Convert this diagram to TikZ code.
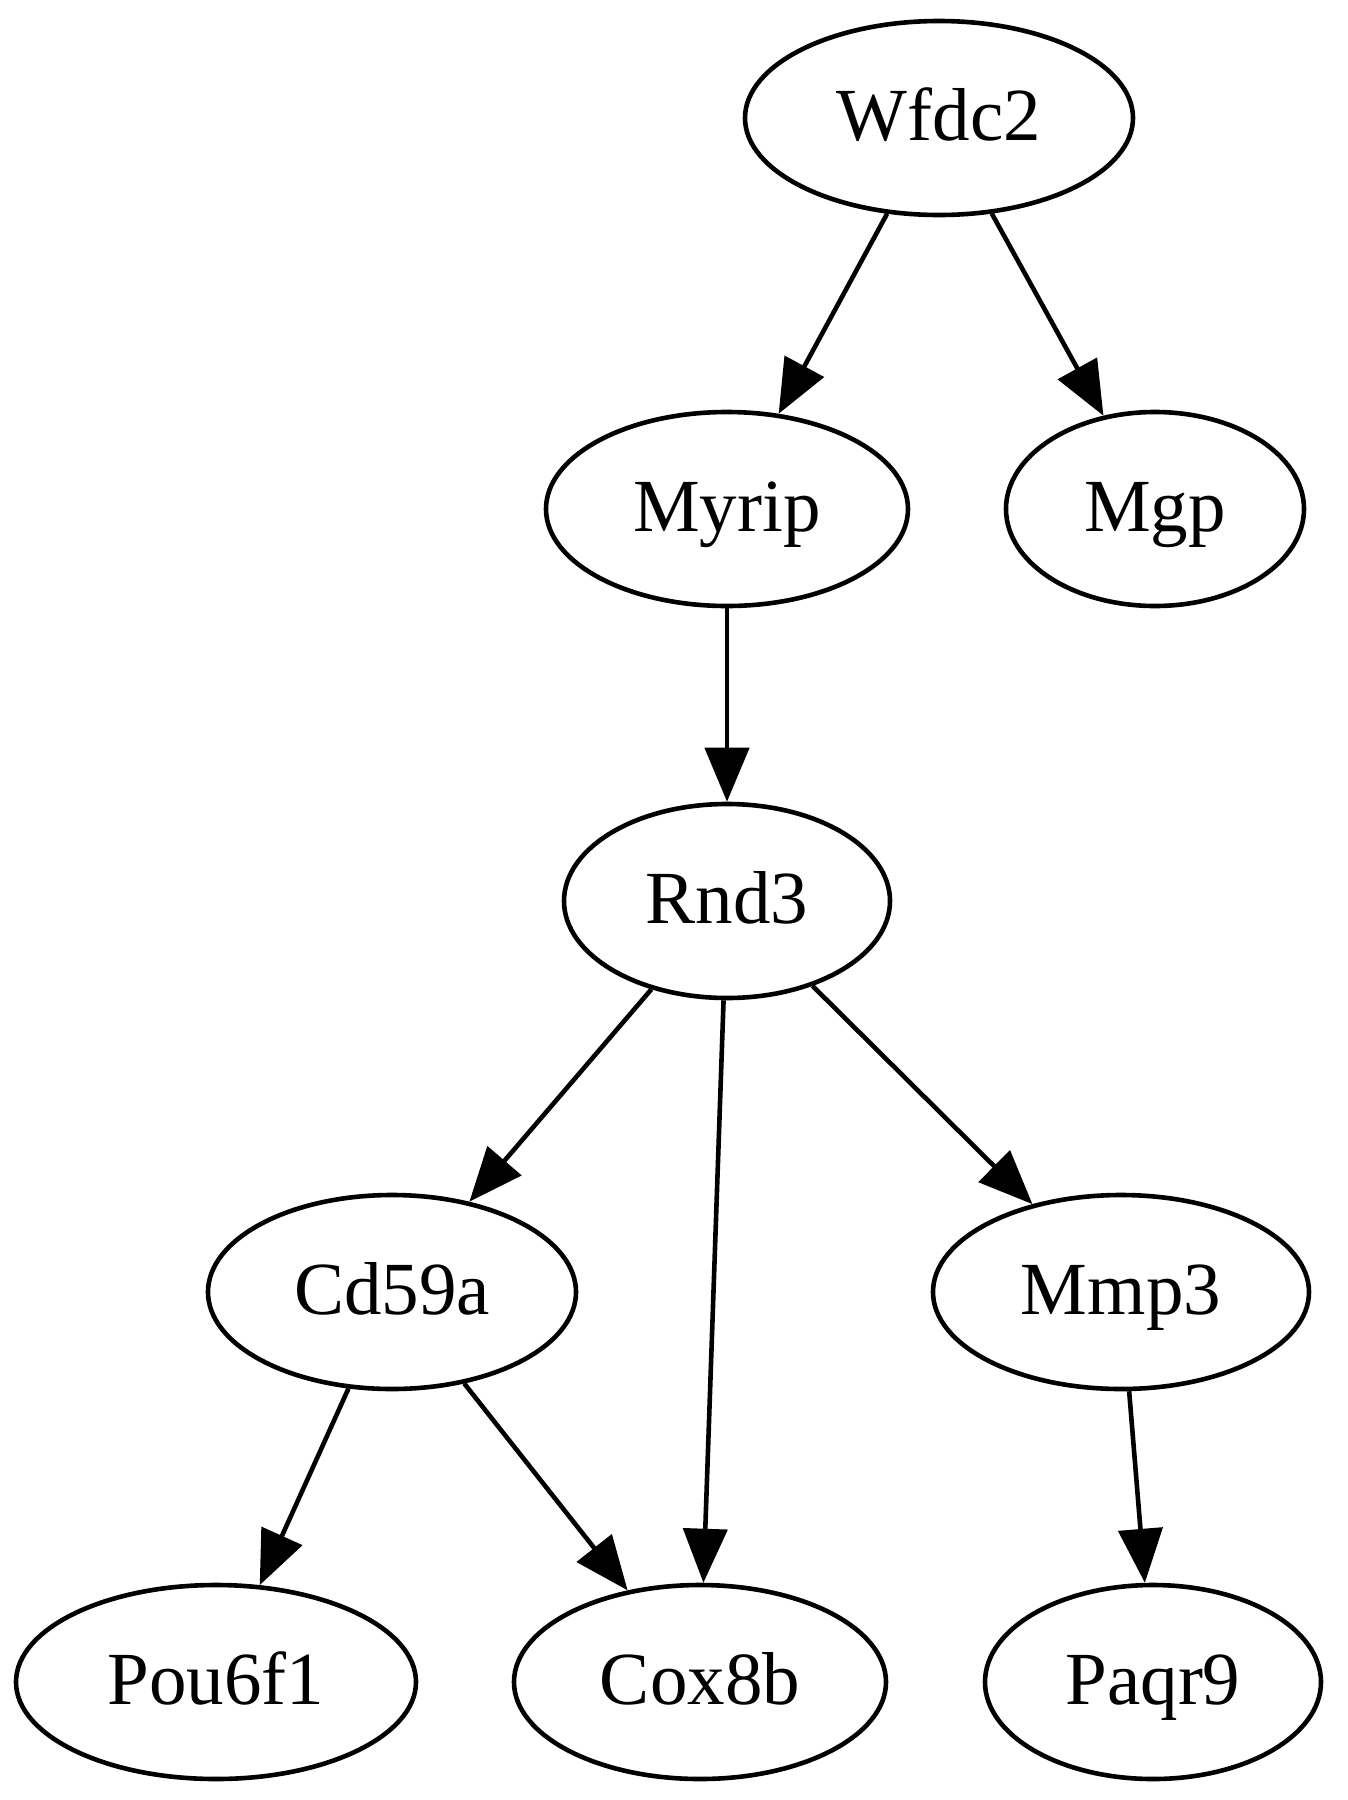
\documentclass[tikz,border=0pt]{standalone}
\usepackage{fontspec}
\setmainfont{Liberation Serif}
\usetikzlibrary{shapes.geometric,arrows.meta}
\begin{document}
\begin{tikzpicture}[x=1pt,y=-1pt,
  gnode/.style={draw, ellipse, line width=4.6pt, inner sep=0pt,
    minimum height=194pt, font=\fontsize{75}{90}\selectfont,
    text height=58pt, text depth=14pt},
  edge/.style={line width=4.6pt, -{Triangle[length=54pt,width=44pt]}}]
\useasboundingbox (0,0) rectangle (1348,1800);
\node[gnode, minimum width=388pt] (wfdc2) at (939,118) {Wfdc2};
\node[gnode, minimum width=362pt] (myrip) at (727,509) {Myrip};
\node[gnode, minimum width=298pt] (mgp) at (1155,509) {Mgp};
\node[gnode, minimum width=326pt] (rnd3) at (727,901) {Rnd3};
\node[gnode, minimum width=368pt] (cd59a) at (392,1292) {Cd59a};
\node[gnode, minimum width=376pt] (mmp3) at (1121,1292) {Mmp3};
\node[gnode, minimum width=400pt] (pou6f1) at (216,1682) {Pou6f1};
\node[gnode, minimum width=372pt] (cox8b) at (700,1682) {Cox8b};
\node[gnode, minimum width=336pt] (paqr9) at (1153,1682) {Paqr9};
\draw[edge] (wfdc2) -- (myrip);
\draw[edge] (wfdc2) -- (mgp);
\draw[edge] (myrip) -- (rnd3);
\draw[edge] (rnd3) -- (cd59a);
\draw[edge] (rnd3) -- (cox8b);
\draw[edge] (rnd3) -- (mmp3);
\draw[edge] (cd59a) -- (pou6f1);
\draw[edge] (cd59a) -- (cox8b);
\draw[edge] (mmp3) -- (paqr9);
\end{tikzpicture}
\end{document}
